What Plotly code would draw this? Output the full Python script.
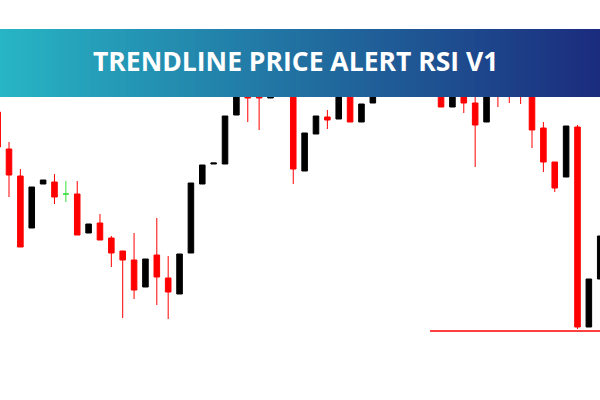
import plotly.graph_objects as go

# ---- data ----
idx = list(range(54))
opens = [1.0888, 1.0851, 1.0824, 1.0772, 1.0816, 1.0818, 1.0806, 1.0806, 1.0767, 1.0777,
         1.0762, 1.0749, 1.0740, 1.0713, 1.0745, 1.0722, 1.0706, 1.0747, 1.0816, 1.0836,
         1.0836, 1.0885, 1.0920, 1.0915, 1.0902, 1.0930, 1.0930, 1.0829, 1.0866, 1.0883,
         1.0881, 1.0925, 1.0878, 1.0897, 1.0910, 1.0938, 1.0915, 1.0940, 1.0930, 1.0930,
         1.0893, 1.0915, 1.0897, 1.0878, 1.0930, 1.0935, 1.0930, 1.0920, 1.0872, 1.0838,
         1.0823, 1.0873, 1.0673, 1.0721]
highs = [1.0889, 1.0858, 1.0831, 1.0813, 1.0820, 1.0826, 1.0819, 1.0819, 1.0776, 1.0786,
         1.0764, 1.0749, 1.0767, 1.0741, 1.0782, 1.0744, 1.0746, 1.0817, 1.0835, 1.0837,
         1.0884, 1.0945, 1.0950, 1.0940, 1.0948, 1.0955, 1.0945, 1.0867, 1.0884, 1.0890,
         1.0940, 1.0935, 1.0896, 1.0938, 1.0948, 1.0945, 1.0952, 1.0948, 1.0940, 1.0940,
         1.0938, 1.0925, 1.0920, 1.0932, 1.0938, 1.0940, 1.0938, 1.0930, 1.0878, 1.0838,
         1.0874, 1.0875, 1.0721, 1.0764]
lows = [1.0853, 1.0803, 1.0753, 1.0772, 1.0816, 1.0796, 1.0798, 1.0765, 1.0767, 1.0760,
        1.0733, 1.0682, 1.0701, 1.0713, 1.0695, 1.0681, 1.0706, 1.0747, 1.0816, 1.0836,
        1.0836, 1.0885, 1.0878, 1.0870, 1.0902, 1.0920, 1.0816, 1.0829, 1.0866, 1.0871,
        1.0881, 1.0878, 1.0878, 1.0897, 1.0905, 1.0915, 1.0910, 1.0910, 1.0906, 1.0893,
        1.0893, 1.0887, 1.0833, 1.0878, 1.0893, 1.0897, 1.0896, 1.0852, 1.0828, 1.0808,
        1.0823, 1.0671, 1.0673, 1.0721]
closes = [1.0853, 1.0825, 1.0753, 1.0813, 1.0820, 1.0803, 1.0806, 1.0765, 1.0776, 1.0760,
          1.0747, 1.0740, 1.0710, 1.0741, 1.0723, 1.0708, 1.0746, 1.0817, 1.0835, 1.0837,
          1.0884, 1.0940, 1.0902, 1.0902, 1.0940, 1.0950, 1.0831, 1.0867, 1.0884, 1.0880,
          1.0930, 1.0878, 1.0896, 1.0930, 1.0940, 1.0920, 1.0945, 1.0915, 1.0910, 1.0893,
          1.0930, 1.0897, 1.0875, 1.0925, 1.0910, 1.0912, 1.0910, 1.0870, 1.0838, 1.0812,
          1.0874, 1.0673, 1.0721, 1.0764]
doji_index = [6]          # neutral (green) candle
support_level = 1.0669
support_span = [38.03, 54]
title_text = "TRENDLINE PRICE ALERT RSI V1"

# ---- split regular candles / doji ----
main = [i for i in idx if i not in doji_index]
fig = go.Figure()
fig.add_trace(go.Candlestick(
    x=[idx[i] for i in main],
    open=[opens[i] for i in main], high=[highs[i] for i in main],
    low=[lows[i] for i in main], close=[closes[i] for i in main],
    increasing=dict(line=dict(color="#000000", width=1), fillcolor="#000000"),
    decreasing=dict(line=dict(color="#FF0000", width=1), fillcolor="#FF0000"),
    hoverinfo="skip", showlegend=False))
fig.add_trace(go.Candlestick(
    x=[idx[i] for i in doji_index],
    open=[opens[i] for i in doji_index], high=[highs[i] for i in doji_index],
    low=[lows[i] for i in doji_index], close=[closes[i] for i in doji_index],
    increasing=dict(line=dict(color="#3CE03C", width=1), fillcolor="#3CE03C"),
    decreasing=dict(line=dict(color="#3CE03C", width=1), fillcolor="#3CE03C"),
    hoverinfo="skip", showlegend=False))
fig.add_trace(go.Scatter(
    x=support_span, y=[support_level] * len(support_span), mode="lines",
    line=dict(color="#FF0000", width=1.5), hoverinfo="skip", showlegend=False))

# ---- gradient banner (decoration) ----
c0 = (0x27, 0xB4, 0xC4)
c1 = (0x1B, 0x2C, 0x7E)
n = 120
shapes = []
for k in range(n):
    t = k / (n - 1)
    col = "rgb(%d,%d,%d)" % tuple(round(a + (b - a) * t) for a, b in zip(c0, c1))
    x0 = k / n
    x1 = min(1.0, (k + 1) / n + 0.003)
    shapes.append(dict(type="rect", xref="paper", yref="paper",
                       x0=x0, x1=x1, y0=1 - 97 / 400, y1=1 - 29 / 400,
                       fillcolor=col, line=dict(width=0), layer="above"))

fig.update_layout(
    width=600, height=400,
    margin=dict(l=0, r=0, t=0, b=0),
    paper_bgcolor="white", plot_bgcolor="white",
    showlegend=False, hovermode=False,
    xaxis=dict(range=[0.208, 52.98], visible=False, rangeslider=dict(visible=False), fixedrange=True),
    yaxis=dict(range=[1.06, 1.10], visible=False, fixedrange=True),
    shapes=shapes,
    annotations=[dict(text=title_text, xref="paper", yref="paper",
                      x=295 / 600, y=1 - 61 / 400, xanchor="center", yanchor="middle",
                      showarrow=False,
                      font=dict(family="Open Sans", size=26.5, color="white", weight=700))],
)

fig.write_html("out.html", config={"displayModeBar": False},
               post_script="document.body.style.margin='0';document.body.style.overflow='hidden';")
